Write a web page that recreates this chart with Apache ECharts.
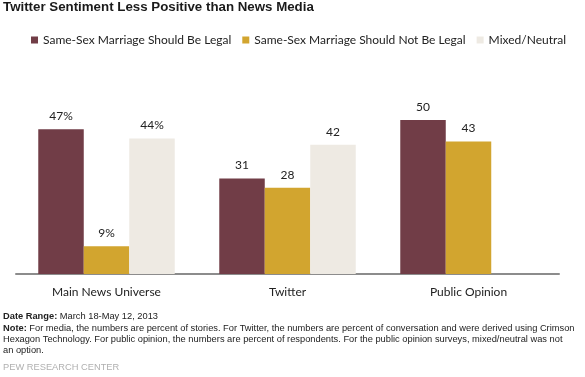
<!DOCTYPE html>
<html>
<head>
<meta charset="utf-8">
<script src="https://cdn.jsdelivr.net/npm/echarts@6/dist/echarts.min.js"></script>
<style>
  html, body { margin: 0; padding: 0; background: #fff; }
  #chart { width: 585px; height: 377px; }
</style>
</head>
<body>
<div id="chart"></div>
<script>
const categories = ['Main News Universe', 'Twitter', 'Public Opinion'];
const seriesNames = [
  'Same-Sex Marriage Should Be Legal',
  'Same-Sex Marriage Should Not Be Legal',
  'Mixed/Neutral',
];
const legalValues = [47, 31, 50];
const notLegalValues = [9, 28, 43];
const mixedValues = [44, 42, null];
const colors = ['#713d47', '#d2a52f', '#eeeae3'];

const labelFont = 'Lato, "Open Sans", sans-serif';
const noteFont = '"Liberation Sans", Arial, sans-serif';

// first category is shown with a % sign, the rest as plain numbers
const formatLabel = (p) => (p.dataIndex === 0 ? `${p.value}%` : `${p.value}`);

const makeSeries = (name, data, color) => ({
  name,
  type: 'bar',
  data,
  barGap: 0,
  barCategoryGap: '24.6%',
  itemStyle: { color },
  label: {
    show: true,
    position: 'top',
    distance: 7,
    color: '#222',
    fontFamily: labelFont,
    fontSize: 12,
    formatter: formatLabel,
  },
});

const chart = echarts.init(document.getElementById('chart'));

const option = {
  animation: false,
  color: colors,
  legend: {
    left: 26,
    top: 29,
    icon: 'rect',
    itemWidth: 7,
    itemHeight: 7,
    itemGap: 11,
    selectedMode: false,
    textStyle: { color: '#222', fontFamily: labelFont, fontSize: 12 },
    data: seriesNames,
  },
  grid: {
    left: 16,
    right: 26,
    top: 120,
    bottom: 103,
    containLabel: false,
  },
  xAxis: {
    type: 'category',
    data: categories,
    axisLine: { lineStyle: { color: '#8c8c8c', width: 2 } },
    axisTick: { show: false },
    axisLabel: {
      color: '#222',
      fontFamily: labelFont,
      fontSize: 12,
      margin: 12,
    },
  },
  yAxis: {
    type: 'value',
    min: 0,
    max: 50,
    show: false,
    splitLine: { show: false },
  },
  series: [
    makeSeries(seriesNames[0], legalValues, colors[0]),
    makeSeries(seriesNames[1], notLegalValues, colors[1]),
    makeSeries(seriesNames[2], mixedValues, colors[2]),
  ],
  graphic: [
    {
      type: 'text',
      left: 3,
      top: 1,
      style: {
        text: 'Twitter Sentiment Less Positive than News Media',
        font: `bold 13.3px ${noteFont}`,
        fill: '#1a1a1a',
      },
    },
    {
      type: 'text',
      left: 3,
      top: 311,
      style: {
        text: '{b|Date Range:} March 18-May 12, 2013\n'
          + '{b|Note:} For media, the numbers are percent of stories. For Twitter, the numbers are percent of conversation and were derived using Crimson\n'
          + 'Hexagon Technology. For public opinion, the numbers are percent of respondents. For the public opinion surveys, mixed/neutral was not\n'
          + 'an option.',
        font: `9.3px ${noteFont}`,
        fill: '#222',
        lineHeight: 11.3,
        rich: {
          b: { font: `bold 9.3px ${noteFont}`, fill: '#222', lineHeight: 11.3 },
        },
      },
    },
    {
      type: 'text',
      left: 3,
      top: 363,
      style: {
        text: 'PEW RESEARCH CENTER',
        font: `9.3px ${noteFont}`,
        fill: '#b0b0b0',
      },
    },
  ],
};

chart.setOption(option);
</script>
</body>
</html>
